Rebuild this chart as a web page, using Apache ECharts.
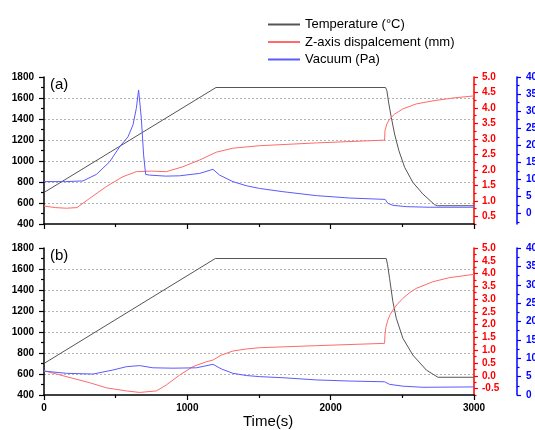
<!DOCTYPE html>
<html><head><meta charset="utf-8">
<script src="https://cdn.jsdelivr.net/npm/echarts@6/dist/echarts.min.js"></script>
<style>html,body{margin:0;padding:0;background:#fff}#c{width:535px;height:430px}</style>
</head><body><div id="c"></div>
<script>
const seriesNames = ['Temperature (°C)', 'Z-axis dispalcement (mm)', 'Vacuum (Pa)'];
const panelLabels = ['(a)', '(b)'];
const xTitle = 'Time(s)';

// Panel (a)
const tempTimeA = [0, 1200, 2383, 2392, 2406, 2423, 2446, 2476, 2516, 2573, 2643, 2725, 2745, 3000];
const tempA     = [700, 1700, 1700, 1670, 1543, 1416, 1257, 1098, 940, 797, 686, 584, 574, 574];
const dispTimeA = [0, 80, 156, 230, 319, 435, 551, 644, 750, 853, 969, 1086, 1202, 1318, 1504, 1900, 2376, 2379, 2392, 2411, 2446, 2504, 2597, 2713, 2852, 3000];
const dispA     = [0.83, 0.78, 0.76, 0.78, 1.08, 1.46, 1.78, 1.94, 1.96, 1.94, 2.10, 2.32, 2.57, 2.70, 2.78, 2.87, 2.96, 3.27, 3.48, 3.64, 3.80, 3.97, 4.13, 4.23, 4.32, 4.39];
const vacTimeA  = [0, 150, 272, 365, 458, 528, 586, 621, 644, 660, 679, 695, 709, 737, 850, 946, 1086, 1179, 1225, 1318, 1411, 1504, 1667, 1900, 2132, 2380, 2399, 2434, 2527, 2690, 3000];
const vacA      = [9.4, 9.4, 9.6, 11.5, 15.2, 19.6, 22.5, 26.0, 30.8, 36.2, 27.9, 17.2, 11.5, 11.3, 11.0, 11.1, 11.8, 13.0, 11.3, 9.4, 8.2, 7.4, 6.45, 5.3, 4.6, 4.2, 3.06, 2.47, 2.07, 1.9, 1.9];

// Panel (b)
const tempTimeB = [0, 1195, 2388, 2397, 2411, 2434, 2458, 2504, 2573, 2667, 2748, 3000];
const tempB     = [700, 1700, 1700, 1640, 1511, 1289, 1130, 940, 781, 638, 569, 569];
const dispTimeB = [0, 202, 319, 435, 575, 667, 784, 853, 946, 1039, 1133, 1180, 1237, 1318, 1411, 1504, 1900, 2376, 2379, 2385, 2399, 2415, 2434, 2465, 2504, 2550, 2597, 2713, 2829, 3000];
const dispB     = [0.2, -0.10, -0.27, -0.47, -0.59, -0.65, -0.59, -0.36, 0.03, 0.36, 0.55, 0.62, 0.81, 0.97, 1.05, 1.10, 1.18, 1.27, 1.60, 1.90, 2.18, 2.40, 2.57, 2.80, 3.03, 3.25, 3.42, 3.68, 3.84, 3.97];
const vacTimeB  = [0, 156, 342, 481, 575, 667, 760, 900, 1063, 1179, 1237, 1318, 1411, 1504, 1667, 1900, 2132, 2376, 2411, 2504, 2643, 3000];
const vacB      = [6.5, 5.9, 5.7, 6.8, 7.7, 8.0, 7.4, 7.3, 7.4, 8.35, 7.1, 5.9, 5.3, 5.0, 4.7, 4.1, 3.8, 3.6, 2.9, 2.4, 2.1, 2.2];

// Axis ranges and ticks
const xMin = 0, xMax = 3000, xInterval = 1000;
const tempMin = 400, tempMax = 1800, tempInterval = 200;
const dispRangeA = [0.25, 5.0];
const dispRangeB = [-0.75, 5.0];
const dispMajorA = [0.5, 1.0, 1.5, 2.0, 2.5, 3.0, 3.5, 4.0, 4.5, 5.0];
const dispMinorA = [0.25, 0.75, 1.25, 1.75, 2.25, 2.75, 3.25, 3.75, 4.25, 4.75];
const dispMajorB = [-0.5, 0.0, 0.5, 1.0, 1.5, 2.0, 2.5, 3.0, 3.5, 4.0, 4.5, 5.0];
const dispMinorB = [-0.75, -0.25, 0.25, 0.75, 1.25, 1.75, 2.25, 2.75, 3.25, 3.75, 4.25, 4.75];
const vacRangeA = [-3, 40];
const vacRangeB = [0, 40];
const vacMajor = [0, 5, 10, 15, 20, 25, 30, 35, 40];
const vacMinorA = [-2.5, 2.5, 7.5, 12.5, 17.5, 22.5, 27.5, 32.5, 37.5];
const vacMinorB = [2.5, 7.5, 12.5, 17.5, 22.5, 27.5, 32.5, 37.5];

const FONT = '"Liberation Sans", Arial, sans-serif';
const C_TEMP = '#555555', C_DISP = '#ff6a6a', C_VAC = '#5a5aff';
const C_RED = '#ff0000', C_BLUE = '#0000ff';

function pairs(t, v) { return t.map((x, i) => [x, v[i]]); }

const grids = [
  {left: 44, top: 77, width: 430, height: 147, outerBoundsMode: 'none', containLabel: false},
  {left: 44, top: 248, width: 430, height: 147, outerBoundsMode: 'none', containLabel: false}
];

const plain = v => String(Math.round(v));
const fmt1 = v => Number(v).toFixed(1);

function xAxisFor(gi, showLabels) {
  return {
    type: 'value', gridIndex: gi, min: xMin, max: xMax, interval: xInterval,
    axisLine: {show: true, onZero: false, lineStyle: {color: '#000', width: 1.5}},
    axisTick: {show: true, inside: false, length: 5, lineStyle: {color: '#000', width: 1.2}},
    minorTick: {show: true, splitNumber: 2, length: 3, lineStyle: {color: '#000', width: 1.2}},
    axisLabel: {show: showLabels, formatter: plain, fontFamily: FONT, fontSize: 10, fontWeight: 'bold', color: '#000', margin: 8},
    splitLine: {show: false}, minorSplitLine: {show: false}
  };
}

function tempAxis(gi) {
  return {
    type: 'value', gridIndex: gi, position: 'left', min: tempMin, max: tempMax, interval: tempInterval,
    axisLine: {show: true, lineStyle: {color: '#000', width: 1.5}},
    axisTick: {show: true, inside: false, length: 5, lineStyle: {color: '#000', width: 1.2}},
    minorTick: {show: true, splitNumber: 2, length: 3, lineStyle: {color: '#000', width: 1.2}},
    axisLabel: {formatter: plain, fontFamily: FONT, fontSize: 10, fontWeight: 'bold', color: '#000', margin: 10},
    splitLine: {show: true, showMinLine: false, showMaxLine: false, lineStyle: {color: '#b4b4b4', width: 1, type: [2, 2]}}
  };
}

function rightAxis(gi, range, majors, color, offset, fmt, margin) {
  return {
    type: 'value', gridIndex: gi, position: 'right', offset: offset, min: range[0], max: range[1],
    axisLine: {show: true, onZero: false, lineStyle: {color: color, width: 1.5}},
    axisTick: {show: true, inside: false, length: 4, customValues: majors, lineStyle: {color: color, width: 1.2}},
    axisLabel: {show: true, customValues: majors, formatter: fmt, fontFamily: FONT, fontSize: 10, fontWeight: 'bold', color: color, margin: margin},
    splitLine: {show: false}
  };
}

function minorAxis(gi, range, minors, color, offset) {
  return {
    type: 'value', gridIndex: gi, position: 'right', offset: offset, min: range[0], max: range[1],
    axisLine: {show: false},
    axisTick: {show: true, inside: false, length: 2.5, customValues: minors, lineStyle: {color: color, width: 1.2}},
    axisLabel: {show: false},
    splitLine: {show: false}
  };
}

const yAxes = [
  tempAxis(0),
  rightAxis(0, dispRangeA, dispMajorA, C_RED, 0, fmt1, 8),
  minorAxis(0, dispRangeA, dispMinorA, C_RED, 0),
  rightAxis(0, vacRangeA, vacMajor, C_BLUE, 43, plain, 9),
  minorAxis(0, vacRangeA, vacMinorA, C_BLUE, 43),
  tempAxis(1),
  rightAxis(1, dispRangeB, dispMajorB, C_RED, 0, fmt1, 8),
  minorAxis(1, dispRangeB, dispMinorB, C_RED, 0),
  rightAxis(1, vacRangeB, vacMajor, C_BLUE, 43, plain, 9),
  minorAxis(1, vacRangeB, vacMinorB, C_BLUE, 43)
];

function line(name, xi, yi, data, color) {
  return {
    name: name, type: 'line', xAxisIndex: xi, yAxisIndex: yi, data: data,
    symbol: 'none', showSymbol: false, smooth: false, clip: true,
    lineStyle: {color: color, width: 1}, itemStyle: {color: color},
    emphasis: {disabled: true}, silent: true
  };
}

const series = [
  line(seriesNames[0], 0, 0, pairs(tempTimeA, tempA), C_TEMP),
  line(seriesNames[1], 0, 1, pairs(dispTimeA, dispA), C_DISP),
  line(seriesNames[2], 0, 3, pairs(vacTimeA, vacA), C_VAC),
  line(seriesNames[0], 1, 5, pairs(tempTimeB, tempB), C_TEMP),
  line(seriesNames[1], 1, 6, pairs(dispTimeB, dispB), C_DISP),
  line(seriesNames[2], 1, 8, pairs(vacTimeB, vacB), C_VAC)
];

const chart = echarts.init(document.getElementById('c'), null, {renderer: 'canvas'});
chart.setOption({
  animation: false,
  backgroundColor: '#fff',
  grid: grids,
  xAxis: [xAxisFor(0, false), xAxisFor(1, true)],
  yAxis: yAxes,
  legend: {
    data: seriesNames, orient: 'vertical', left: 262, top: 13,
    itemWidth: 32, itemHeight: 14, itemGap: 4.5, selectedMode: false,
    itemStyle: {opacity: 0},
    textStyle: {fontFamily: FONT, fontSize: 13, color: '#000'}
  },
  graphic: [
    {type: 'text', left: 50, top: 77, style: {text: panelLabels[0], font: '15px ' + FONT, fill: '#000'}},
    {type: 'text', left: 50, top: 248, style: {text: panelLabels[1], font: '15px ' + FONT, fill: '#000'}},
    {type: 'text', left: 243, top: 414, style: {text: xTitle, font: '15px ' + FONT, fill: '#000'}}
  ],
  series: series
});
</script>
</body></html>
